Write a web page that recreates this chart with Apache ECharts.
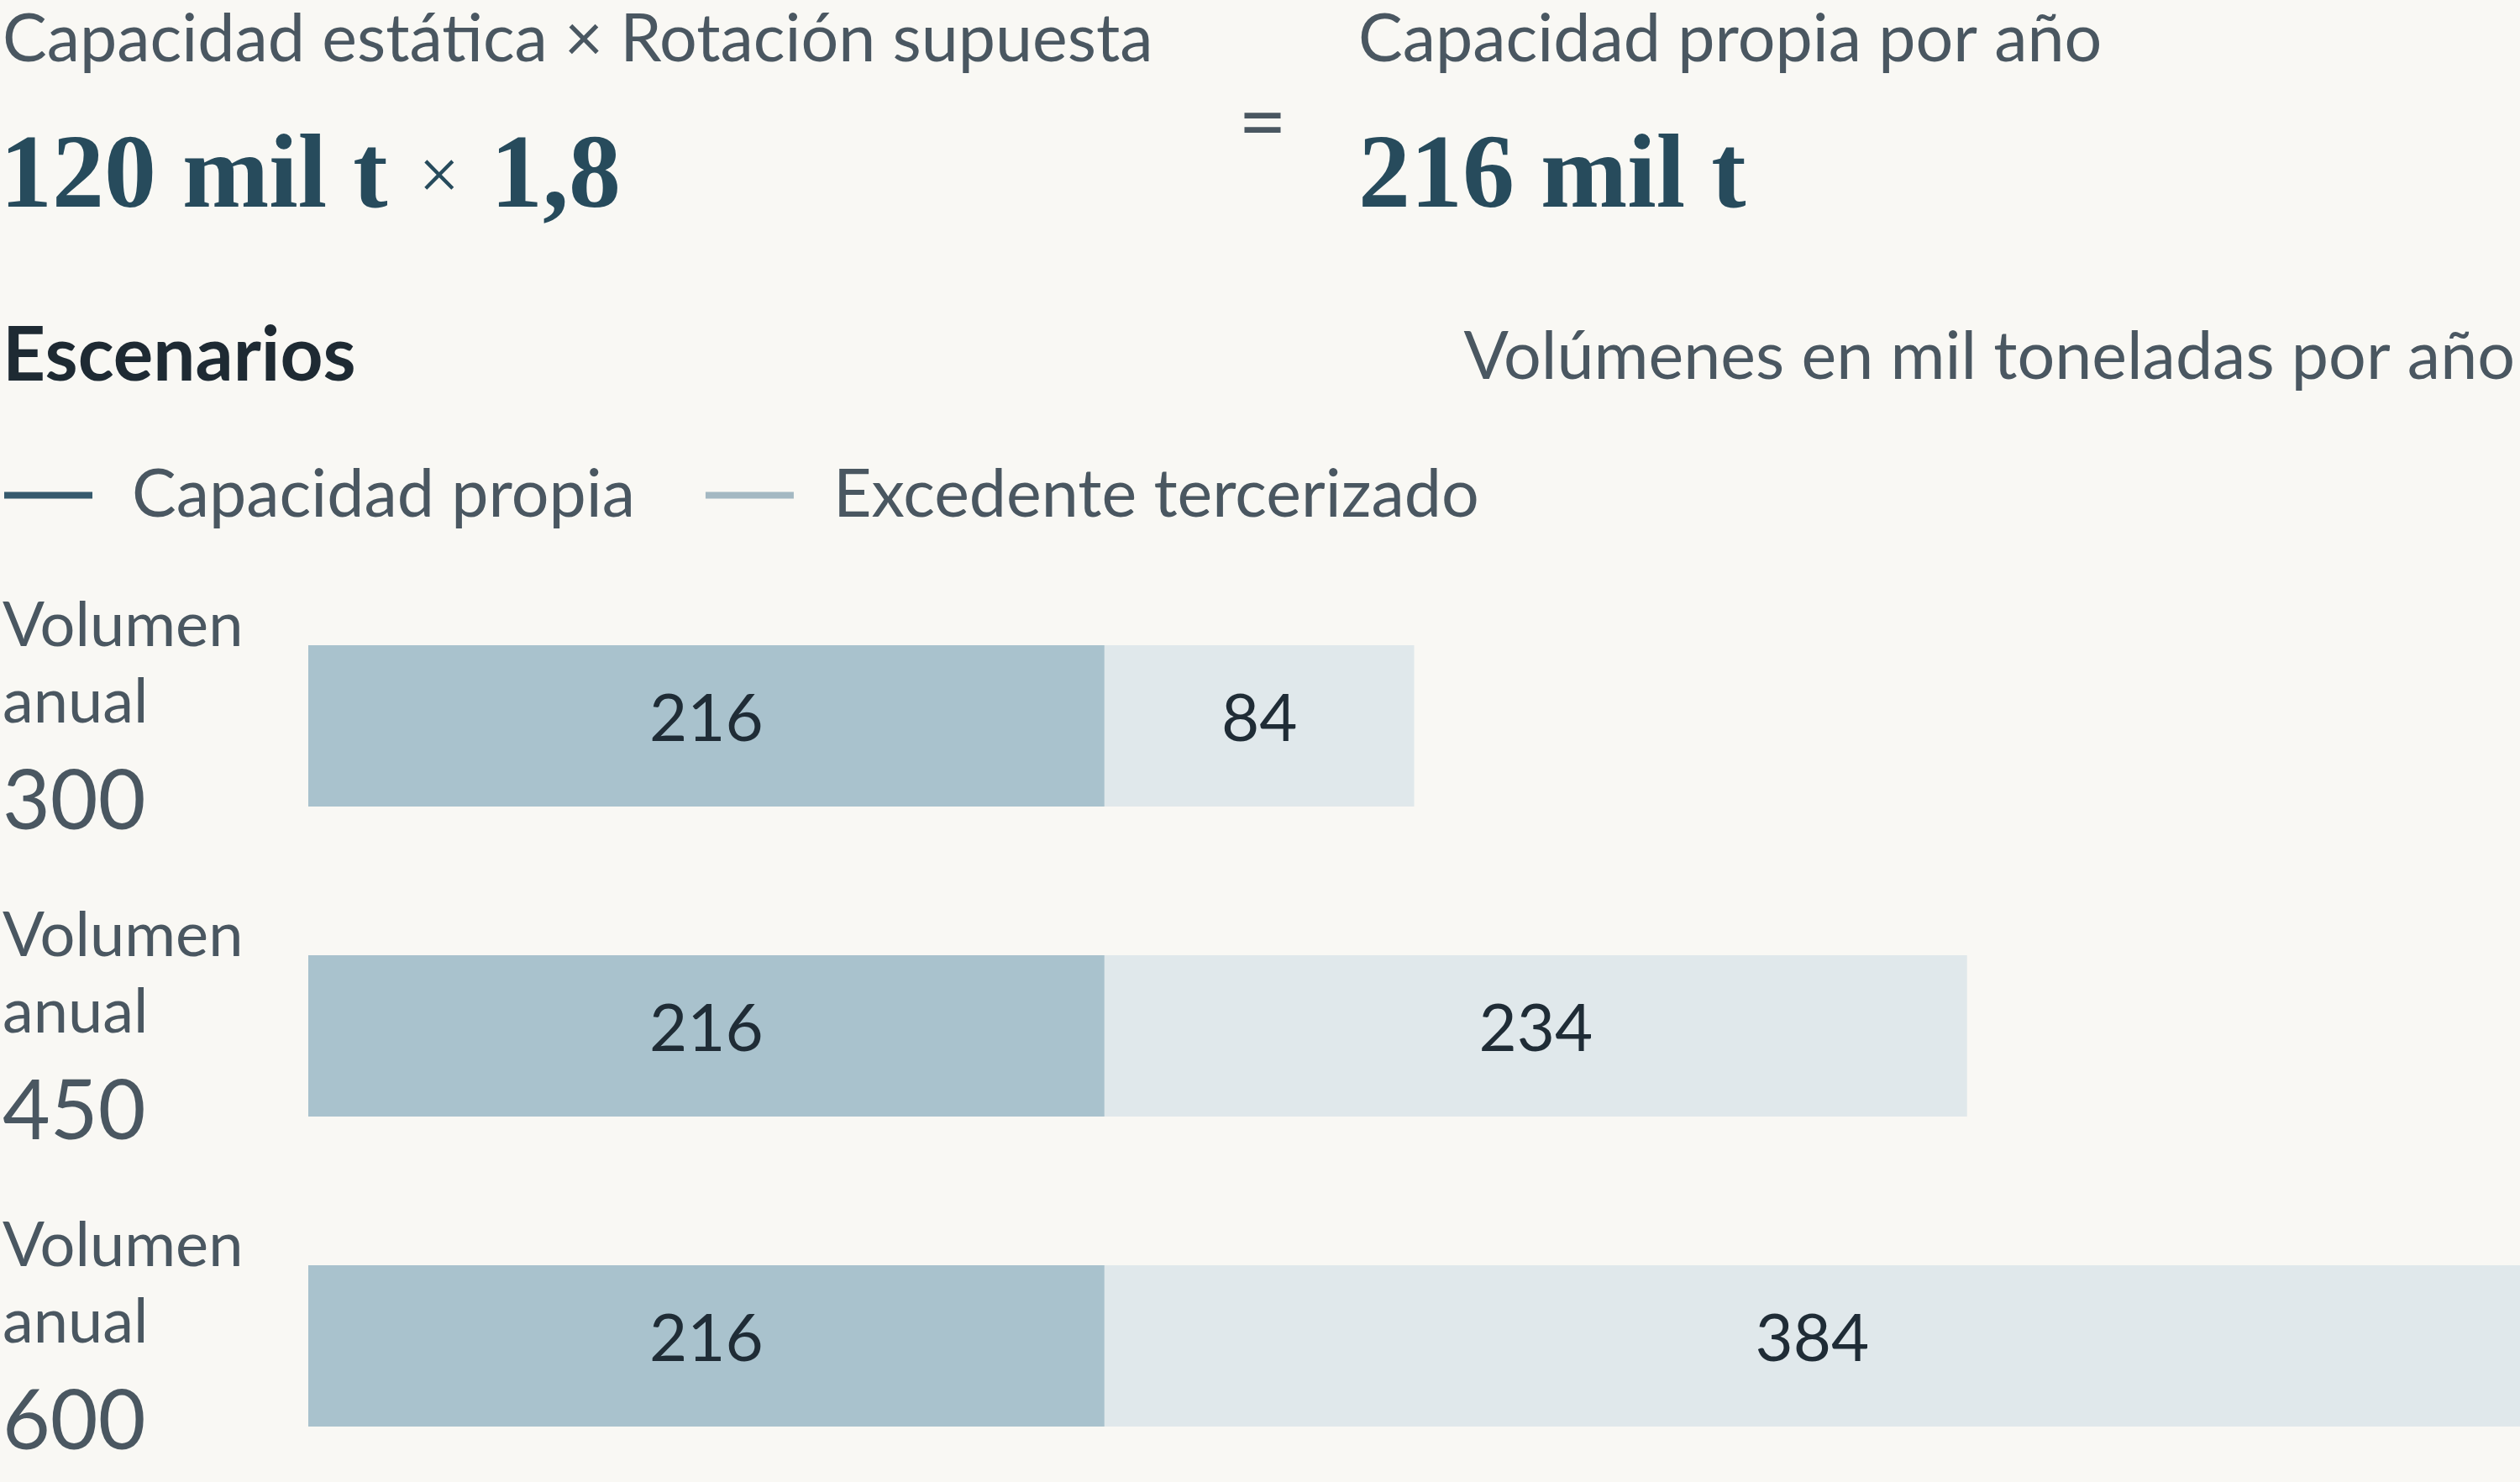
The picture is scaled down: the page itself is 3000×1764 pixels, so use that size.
<!DOCTYPE html>
<html>
<head>
<meta charset="utf-8">
<script src="https://cdn.jsdelivr.net/npm/echarts@6/dist/echarts.min.js"></script>
<style>
  html, body { margin: 0; padding: 0; background: #f9f8f4; }
  #main { width: 3000px; height: 1764px; }
</style>
</head>
<body>
<div id="main"></div>
<script>
// datos de escenarios (mil t por año)
var escenarios = ['300', '450', '600'];
var capacidadPropia = [216, 216, 216];
var excedente = [84, 234, 384];
var serieNombres = ['Capacidad propia', 'Excedente tercerizado'];

var sans = 'Lato, "Noto Sans", sans-serif';
var serif = '"Liberation Serif", "DejaVu Serif", serif';
var gris = '#4a5761';
var azul = '#274b5c';

var myChart = echarts.init(document.getElementById('main'));

var option = {
    backgroundColor: '#f9f8f4',
    animation: false,
    graphic: [
        {
            type: 'text', left: 3, top: 8,
            style: { text: 'Capacidad estática × Rotación supuesta', font: '79px ' + sans, fill: gris }
        },
        {
            type: 'text', left: 0, top: 152,
            style: {
                text: '{n|120 mil t }{x|×}{n| 1,8}',
                rich: {
                    n: { fontFamily: serif, fontSize: 124, fontWeight: 'bold', fill: azul },
                    x: { fontFamily: serif, fontSize: 86, fill: azul, padding: [0, 6, 0, 6] }
                }
            }
        },
        {
            type: 'text', left: 1474, top: 98,
            style: { text: '=', font: '100px ' + sans, fill: gris }
        },
        {
            type: 'text', left: 1617, top: 8,
            style: { text: 'Capacidad propia por año', font: '79px ' + sans, fill: gris }
        },
        {
            type: 'text', left: 1617, top: 152,
            style: { text: '216 mil t', font: 'bold 124px ' + serif, fill: azul }
        },
        {
            type: 'text', left: 3, top: 380,
            style: { text: 'Escenarios', font: 'bold 89px ' + sans, fill: '#1e2a33' }
        },
        {
            type: 'text', right: 6, top: 386,
            style: { text: 'Volúmenes en mil toneladas por año', font: '79px ' + sans, fill: gris }
        }
    ],
    legend: {
        left: 0,
        top: 545,
        icon: 'rect',
        itemWidth: 105,
        itemHeight: 8,
        itemGap: 84,
        selectedMode: false,
        textStyle: { fontFamily: sans, fontSize: 79, color: gris, padding: [0, 0, 0, 42] },
        data: [
            { name: serieNombres[0], itemStyle: { color: '#365a6d' } },
            { name: serieNombres[1], itemStyle: { color: '#a4b8c2' } }
        ]
    },
    grid: {
        left: 364,
        right: 0,
        top: 864,
        height: 738,
        containLabel: false
    },
    xAxis: {
        type: 'value',
        min: 0,
        max: 600,
        show: false
    },
    yAxis: {
        type: 'category',
        inverse: true,
        boundaryGap: false,
        data: escenarios,
        axisLine: { show: false },
        axisTick: { show: false },
        splitLine: { show: false },
        axisLabel: {
            align: 'left',
            margin: 364,
            formatter: function (v) {
                return '{a|Volumen}\n{a|anual}\n{b|' + v + '}';
            },
            rich: {
                a: { fontFamily: sans, fontSize: 74, lineHeight: 91, color: gris },
                b: { fontFamily: sans, fontSize: 98, lineHeight: 146, color: gris }
            }
        }
    },
    series: [
        {
            name: serieNombres[0],
            type: 'bar',
            stack: 'total',
            barWidth: 192,
            itemStyle: { color: '#a9c2cd' },
            label: { show: true, position: 'inside', offset: [0, -7], fontFamily: sans, fontSize: 78, color: '#1f2c36' },
            data: capacidadPropia
        },
        {
            name: serieNombres[1],
            type: 'bar',
            stack: 'total',
            barWidth: 192,
            itemStyle: { color: '#e0e8eb' },
            label: { show: true, position: 'inside', offset: [0, -7], fontFamily: sans, fontSize: 78, color: '#1f2c36' },
            data: excedente
        }
    ]
};
myChart.setOption(option);
</script>
</body>
</html>
